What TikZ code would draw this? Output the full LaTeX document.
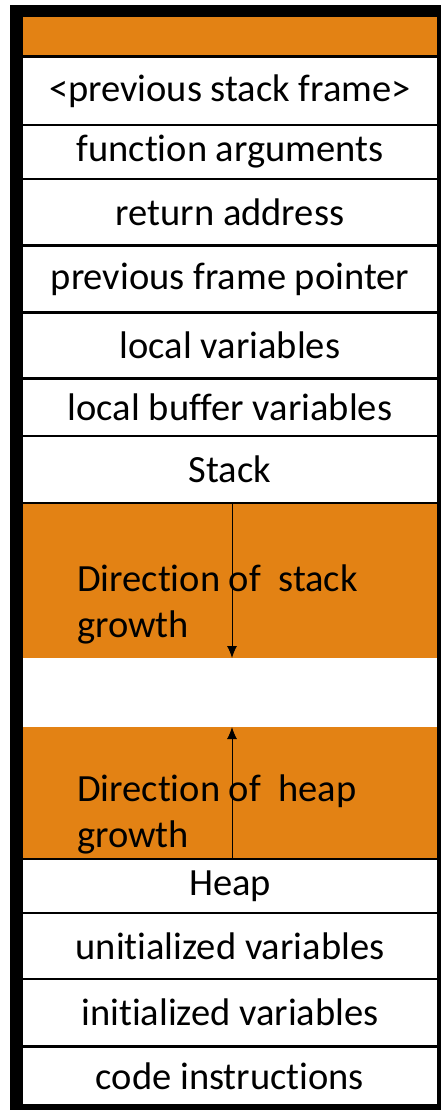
\documentclass[tikz,border=0pt]{standalone}
\usepackage{fontspec}
\setmainfont{Carlito}[Ligatures=NoCommon]
\usetikzlibrary{arrows.meta}
\definecolor{FrameOrange}{RGB}{227,130,20}

\begin{document}
\begin{tikzpicture}[x=1pt,y=1pt,yscale=-1,
  cell/.style={fill=white, inner sep=0pt, minimum width=414pt, font=\fontsize{38.5}{46}\selectfont},
  band/.style={fill=FrameOrange, inner sep=0pt, minimum width=414pt},
  growtext/.style={anchor=base west, align=left, inner sep=0pt, font=\fontsize{38.5}{46}\selectfont},
  growarrow/.style={-{Latex[length=12pt,width=10pt]}, line width=1pt}]

  %set diagram size to 441 x 1111
  \useasboundingbox (0,0) rectangle (441,1111);

  %Shape: Rectangle [outer black frame]
  \fill [black] (10,5) rectangle (441,1110);

  %Shape: Rectangle [top band]
  \node [band, minimum height=38pt] (topband) at (230,36) {};
  % Text Node
  \node [cell, minimum height=66pt] (prevframe) at (230,91) {<previous stack frame>};
  % Text Node
  \node [cell, minimum height=52pt] (funcargs) at (230,152) {function arguments};
  % Text Node
  \node [cell, minimum height=64pt] (retaddr) at (230,212) {return address};
  % Text Node
  \node [cell, minimum height=64pt] (prevfp) at (230,279) {previous frame pointer};
  % Text Node
  \node [cell, minimum height=63pt] (localvars) at (230,345.5) {local variables};
  % Text Node
  \node [cell, minimum height=55pt] (localbuf) at (230,407.5) {local buffer variables};
  % Text Node
  \node [cell, minimum height=65pt] (stack) at (230,469.5) {Stack};

  %Shape: Rectangle [stack growth]
  \node [band, minimum height=154pt] (stackgrow) at (230,581) {};
  %Shape: Rectangle [free gap]
  \node [cell, minimum height=69pt] (freegap) at (230,692.5) {};
  %Shape: Rectangle [heap growth]
  \node [band, minimum height=131pt] (heapgrow) at (230,792.5) {};

  % Text Node
  \node [cell, minimum height=52pt] (heap) at (230,886) {Heap};
  % Text Node
  \node [cell, minimum height=64pt] (uninitvars) at (230,946) {unitialized variables};
  % Text Node
  \node [cell, minimum height=65pt] (initvars) at (230,1012.5) {initialized variables};
  % Text Node
  \node [cell, minimum height=56pt] (codeinstr) at (230,1076) {code instructions};

  %Straight Lines [growth arrows]
  \coordinate (sgtop) at (232,504);
  \coordinate (sgbot) at (232,658);
  \coordinate (hgbot) at (232,858);
  \coordinate (hgtop) at (232,727);
  \draw [growarrow] (sgtop) -- (sgbot);
  \draw [growarrow] (hgbot) -- (hgtop);

  % Text Node
  \node [growtext] (stacktext) at (77,637) {Direction of\ \ stack\\growth};
  % Text Node
  \node [growtext] (heaptext) at (77,847) {Direction of\ \ heap\\growth};

\end{tikzpicture}
\end{document}
